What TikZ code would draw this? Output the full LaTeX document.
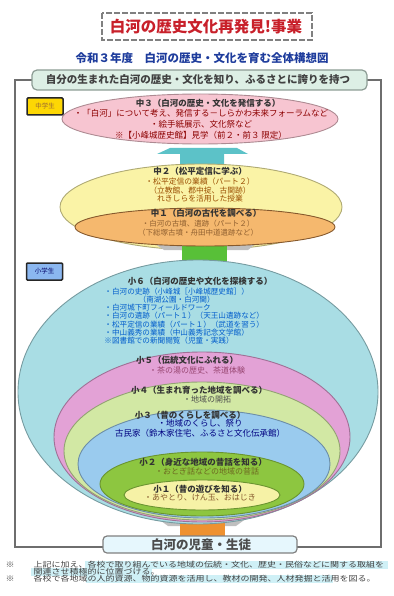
\documentclass[tikz,border=0pt]{standalone}
\usepackage{fontspec}
\setmainfont{Noto Sans CJK JP}
\usetikzlibrary{positioning}
\definecolor{titlered}{HTML}{C8202A}
\definecolor{subblue}{HTML}{1E3C9C}
\definecolor{framegray}{HTML}{6E6E6E}
\definecolor{bannerfill}{HTML}{DDEFE5}
\definecolor{bannerline}{HTML}{8C9C94}
\definecolor{chuthree}{HTML}{F7C5D1}
\definecolor{chutwo}{HTML}{FAF3A6}
\definecolor{chuone}{HTML}{F5B86E}
\definecolor{shosix}{HTML}{A9DDE4}
\definecolor{shofive}{HTML}{E3A2D6}
\definecolor{shofour}{HTML}{D2E8A4}
\definecolor{shothree}{HTML}{9ACBEE}
\definecolor{shotwo}{HTML}{8DC640}
\definecolor{shoone}{HTML}{F6F2A6}
\definecolor{tealarrow}{HTML}{5CC2C8}
\definecolor{greenarrow}{HTML}{58C038}
\definecolor{orangearrow}{HTML}{EE9130}
\definecolor{notehl}{HTML}{CFF0F6}
\tikzset{
	ring/.style={draw=#1, line width=0.9pt},
	grade/.style={font=\fontsize{8.5}{9}\selectfont\bfseries, text=black!80, inner sep=0pt},
	detail/.style={font=\fontsize{8}{8.5}\selectfont, align=center, inner sep=0pt},
	tag/.style={draw=black!85, line width=1.5pt, rounded corners=1pt, minimum width=36pt,
		minimum height=17pt, inner sep=0pt, font=\fontsize{6.5}{7}\selectfont},
	board/.style={draw=bannerline, line width=1.2pt, rounded corners=5pt},
	note/.style={font=\fontsize{7.5}{7.5}\selectfont, text=black!75, inner sep=0pt,
		xscale=1.2, transform shape, anchor=west},
}

\begin{document}
\begin{tikzpicture}[x=1pt, y=-1pt, line width=0.9pt]
	\useasboundingbox (0,0) rectangle (393,596);
	% heading
	\draw[gray, line width=1.3pt, dash pattern=on 6pt off 2pt] (102,13) rectangle (312,40);
	\node[font=\fontsize{15.5}{16}\selectfont\bfseries, text=titlered] (title) at (206,27) {白河の歴史文化再発見!事業};
	\node[font=\fontsize{11.5}{12}\selectfont\bfseries, text=subblue] (subtitle) at (202,58) {令和３年度　白河の歴史・文化を育む全体構想図};
	\draw[framegray, line width=1.2pt] (15,80) rectangle (381,547);
	\draw[board, fill=bannerfill] (32,70) rectangle (367,90);
	\node[font=\fontsize{10.5}{11}\selectfont\bfseries, text=black!75] (aim) at (198,80) {自分の生まれた白河の歴史・文化を知り、ふるさとに誇りを持つ};
	\node[tag, fill=yellow!75!orange, text=brown!80!black] (chutag) at (45,106.5) {中学生};
	\node[tag, fill=shothree!90!blue, text=blue!40!black] (shotag) at (44.5,271.5) {小学生};

	% junior high
	\draw[ring=chuthree!70!black, fill=chuthree] (200,119) ellipse (138 and 25);
	\fill[tealarrow] (180,170) -- (180,154) -- (157,154) -- (170,148) -- (237,148) -- (248,154) -- (224,154) -- (224,170) -- cycle;
	\draw[ring=chutwo!70!black, fill=chutwo] (201,207) ellipse (141 and 43);
	\fill[black!25] (152,242) -- (258,242) -- (248,250) -- (164,250) -- cycle;
	\fill[greenarrow] (182,246) rectangle (227,266);
	\draw[ring=brown!70!black, fill=chuone] (205,227) ellipse (130 and 19);

	% elementary
	\fill[black!25] (157,518) -- (247,518) -- (236,526) -- (168,526) -- cycle;
	\fill[orangearrow] (180,521) rectangle (225,537);
	\draw[ring=shosix!70!black, fill=shosix] (198,392) ellipse (180 and 132);
	\draw[ring=shofive!70!black, fill=shofive] (202,437) ellipse (148 and 85);
	\draw[ring=shofour!70!black, fill=shofour] (202,451) ellipse (138 and 69);
	\draw[ring=shothree!70!black, fill=shothree] (204,464) ellipse (126 and 54);
	\draw[ring=shotwo!75!black, fill=shotwo] (202,484) ellipse (102 and 32);
	\draw[ring=shotwo!75!black, fill=shoone] (202,495) ellipse (78 and 15);

	\node[grade] (chu3) at (208,103) {中３（白河の歴史・文化を発信する）};
	\node[detail, font=\fontsize{8.5}{11}\selectfont, text=red!55!black] (chu3txt) at (201,124.5) {・「白河」について考え、発信する－しらかわ未来フォーラムなど\\・絵手紙展示、文化祭など\\※【小峰城歴史館】見学（前２・前３ 限定）};
	\node[grade] (chu2) at (200,171) {中２（松平定信に学ぶ）};
	\node[detail, font=\fontsize{7.8}{8.7}\selectfont, text=orange!60!black] (chu2txt) at (200,190) {・松平定信の業績（パート２）\\（立教館、郡中掟、古関跡）\\れきしらを活用した授業};
	\node[grade] (chu1) at (206,213) {中１（白河の古代を調べる）};
	\node[detail, font=\fontsize{7.5}{9}\selectfont, text=brown!75!black] (chu1txt) at (198,228) {・白河の古墳、遺跡（パート２）\\（下総塚古墳・舟田中道遺跡など）};

	\node[grade] (sho6) at (200,281.5) {小６（白河の歴史や文化を探検する）};
	\node[detail, font=\fontsize{7.6}{8.2}\selectfont, align=left, anchor=west, text=blue!55!cyan!80!black] (sho6txt) at (104,316) {・白河の史跡（小峰城［小峰城歴史館］）\\\hspace*{4.5em}（南湖公園・白河関）\\・白河城下町フィールドワーク\\・白河の遺跡（パート１）（天王山遺跡など）\\・松平定信の業績（パート１）（武道を習う）\\・中山義秀の業績（中山義秀記念文学館）\\※図書館での新聞閲覧（児童・実践）};
	\node[grade] (sho5) at (187,360) {小５（伝統文化にふれる）};
	\node[detail, text=magenta!55!black] (sho5txt) at (197,370) {・茶の湯の歴史、茶道体験};
	\node[grade] (sho4) at (199,390) {小４（生まれ育った地域を調べる）};
	\node[detail, text=black!70] (sho4txt) at (207,399) {・地域の開拓};
	\node[grade] (sho3) at (190,415) {小３（昔のくらしを調べる）};
	\node[detail, font=\fontsize{8.5}{10}\selectfont, text=blue!50!black] (sho3txt) at (200,428) {・地域のくらし、祭り\\古民家（鈴木家住宅、ふるさと文化伝承館）};
	\node[grade] (sho2) at (203,462) {小２（身近な地域の昔話を知る）};
	\node[detail, text=olive!70!black] (sho2txt) at (207,471) {・おとぎ話などの地域の昔話};
	\node[grade] (sho1) at (200,489) {小１（昔の遊びを知る）};
	\node[detail, text=brown!70!black] (sho1txt) at (200,498) {・あやとり、けん玉、おはじき};

	\draw[board, draw=gray, rounded corners=4pt, fill=cyan!10] (103,536) rectangle (297,553);
	\node[font=\fontsize{12.5}{13}\selectfont\bfseries, text=black!70] (pupils) at (201,545) {白河の児童・生徒};

	% notes
	\fill[notehl] (85,561) rectangle (388,569);
	\fill[notehl] (31,568) rectangle (152,576);
	\fill[notehl] (86,575) rectangle (333,583);
	\node[note] (mark1) at (5,565) {※};
	\node[note] (note1) at (33,565) {上記に加え、各校で取り組んでいる地域の伝統・文化、歴史・民俗などに関する取組を};
	\node[note] (note2) at (33,572) {関連させ積極的に位置づける。};
	\node[note] (mark2) at (5,579) {※};
	\node[note] (note3) at (33,579) {各校で各地域の人的資源、物的資源を活用し、教材の開発、人材発掘と活用を図る。};
\end{tikzpicture}
\end{document}
